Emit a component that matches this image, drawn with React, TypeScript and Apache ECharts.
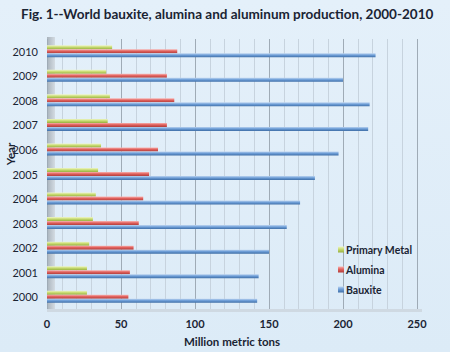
import React, { useEffect, useRef } from "react";
import * as echarts from "echarts";

const years = ["2000", "2001", "2002", "2003", "2004", "2005", "2006", "2007", "2008", "2009", "2010"];
const primaryMetal = [27, 27, 28.5, 31, 33, 34.5, 36.5, 41, 42.5, 40, 44];
const alumina = [55, 56, 58.5, 62, 65, 69, 75, 81, 86, 81, 88];
const bauxite = [142, 143, 150, 162, 171, 181, 197, 217, 218, 200, 222];
const xTicks = [0, 50, 100, 150, 200, 250];

function grad(light: string, mid: string, dark: string) {
  return new echarts.graphic.LinearGradient(0, 0, 0, 1, [
    { offset: 0, color: light },
    { offset: 0.45, color: mid },
    { offset: 1, color: dark },
  ]);
}

export default function App() {
  const ref = useRef<HTMLDivElement>(null);
  useEffect(() => {
    if (!ref.current) return;
    const chart = echarts.init(ref.current, undefined, { renderer: "svg" });
    const font = "Lato, 'Open Sans', sans-serif";
    chart.setOption({
      animation: false,
      backgroundColor: new echarts.graphic.LinearGradient(0, 0, 0, 1, [
        { offset: 0, color: "#e4f0fa" },
        { offset: 1, color: "#dcebf7" },
      ]),
      textStyle: { fontFamily: font },
      title: {
        text: "Fig. 1--World bauxite, alumina and aluminum production, 2000-2010",
        left: 16,
        top: 2,
        textStyle: { fontSize: 13.5, fontWeight: "bold", color: "#1a2433", fontFamily: font },
      },
      legend: {
        orient: "vertical",
        left: 333,
        top: 239,
        itemWidth: 6,
        itemHeight: 6,
        itemGap: 9,
        icon: "rect",
        data: ["Primary Metal", "Alumina", "Bauxite"],
        textStyle: { fontSize: 10.5, fontWeight: "bold", color: "#1a2433", padding: [0, 0, 0, -3] },
      },
      grid: { left: 47, right: 33, top: 39, bottom: 41 },
      xAxis: {
        type: "value",
        min: 0,
        max: 250,
        interval: 50,
        name: "Million metric tons",
        nameLocation: "middle",
        nameGap: 26,
        nameTextStyle: { fontSize: 11.5, fontWeight: "bold", color: "#1a2433" },
        axisLabel: {
          fontSize: 11,
          fontWeight: "bold",
          color: "#1a2433",
          margin: 9,
          formatter: (v: number) => (xTicks.includes(v) ? String(v) : ""),
        },
        axisLine: { show: false },
        axisTick: { show: false },
        splitLine: { show: true, lineStyle: { color: "#9fabb6", width: 1 } },
        minorTick: { show: false, splitNumber: 5 },
        minorSplitLine: { show: true, lineStyle: { color: "#c7d3de", width: 1 } },
      },
      yAxis: {
        type: "category",
        data: years,
        axisLine: { show: false },
        axisTick: { show: false },
        axisLabel: { fontSize: 11, color: "#1a2433", margin: 9 },
        splitLine: { show: false },
      },
      graphic: [
        {
          type: "rect",
          shape: { x: 47, y: 37, width: 8, height: 275 },
          style: {
            fill: new echarts.graphic.LinearGradient(0, 0, 1, 0, [
              { offset: 0, color: "#a9b3bc" },
              { offset: 1, color: "#d3dbe2" },
            ]),
          },
          z: -1,
        },
        {
          type: "rect",
          shape: { x: 47, y: 309, width: 375, height: 3 },
          style: { fill: "#cfd9e2" },
          z: -1,
        },
        {
          type: "text",
          x: 10,
          y: 154,
          rotation: Math.PI / 2,
          style: {
            text: "Year",
            fontSize: 11.5,
            fontWeight: "bold",
            fill: "#1a2433",
            fontFamily: font,
            align: "center",
            verticalAlign: "middle",
          },
        },
      ],
      series: [
        {
          name: "Primary Metal",
          type: "bar",
          data: primaryMetal,
          barWidth: 4,
          barGap: "0%",
          itemStyle: { color: grad("#eef5c8", "#c8dc72", "#98b040") },
        },
        {
          name: "Alumina",
          type: "bar",
          data: alumina,
          barWidth: 4,
          barGap: "0%",
          itemStyle: { color: grad("#f7b4b2", "#e2625e", "#b23e3b") },
        },
        {
          name: "Bauxite",
          type: "bar",
          data: bauxite,
          barWidth: 4,
          barGap: "0%",
          itemStyle: { color: grad("#bcd4f0", "#6f9fd8", "#3f6fa8") },
        },
      ],
    });
    return () => chart.dispose();
  }, []);
  return <div ref={ref} style={{ width: 450, height: 352, position: "absolute", left: 0, top: 0 }} />;
}
